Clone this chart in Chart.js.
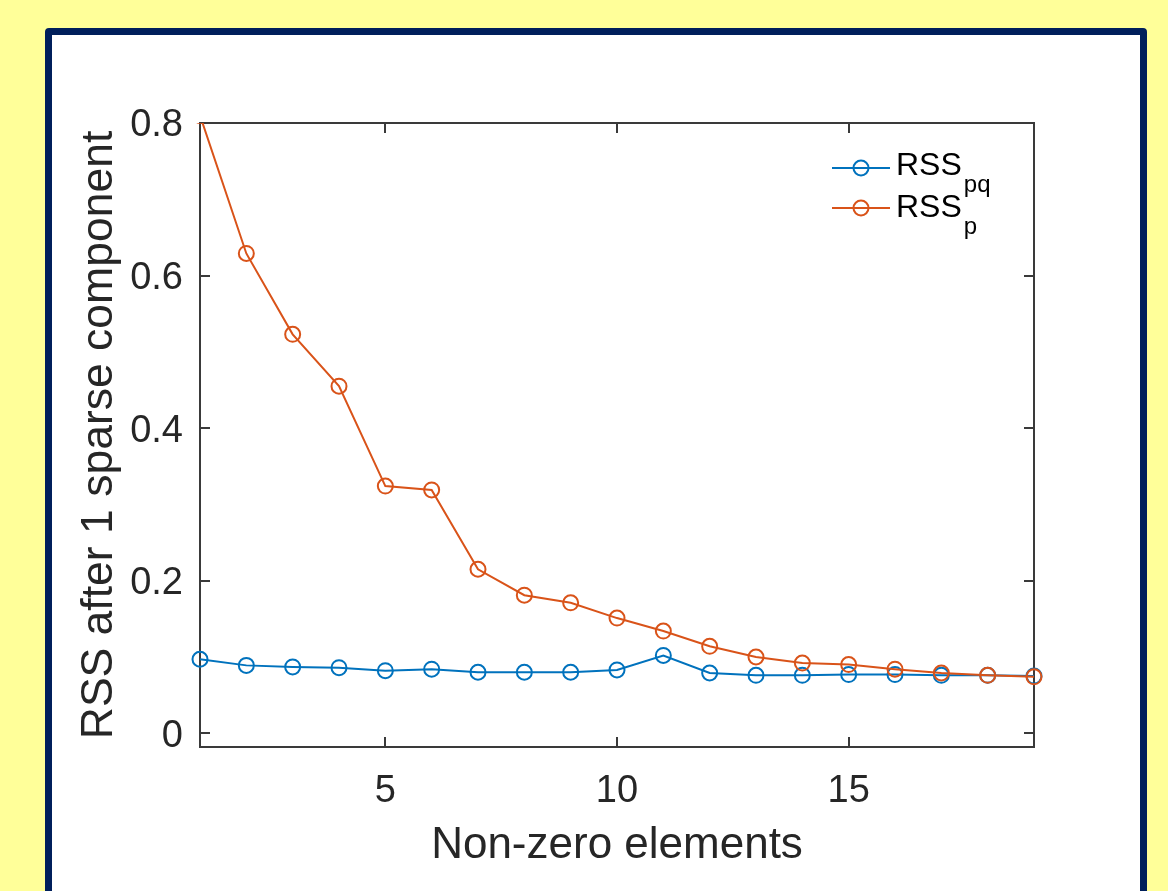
<!DOCTYPE html>
<html>
<head>
<meta charset="utf-8">
<title>RSS after 1 sparse component</title>
<script src="https://cdn.jsdelivr.net/npm/chart.js@4.4.1/dist/chart.umd.min.js"></script>
<style>
  html, body { margin: 0; padding: 0; overflow: hidden; }
  body { background: #ffff99; width: 1168px; height: 891px; position: relative; }
  .frame {
    position: absolute; left: 45px; top: 28px;
    width: 1088px; height: 900px;
    border: 7px solid #001f5b; border-radius: 4px;
    background: #fff;
  }
  .chart_box { position: relative; width: 1088px; height: 856px; }
</style>
</head>
<body>
<div class="frame">
  <div class="chart_box"><canvas id="myChart"></canvas></div>
</div>
<script>
// data
const elements = [1,2,3,4,5,6,7,8,9,10,11,12,13,14,15,16,17,18,19];
const rssPQ = [0.097,0.089,0.087,0.086,0.082,0.084,0.080,0.080,0.080,0.083,0.102,0.079,0.076,0.076,0.077,0.077,0.076,0.076,0.075];
const rssP  = [0.81,0.629,0.523,0.455,0.324,0.319,0.215,0.181,0.171,0.151,0.134,0.114,0.100,0.092,0.090,0.084,0.079,0.076,0.074];
const xTicks = [5, 10, 15];
const yTicks = [0, 0.2, 0.4, 0.6, 0.8];

const blue = "#0072bd";
const orange = "#d95319";
const axisColor = "#262626";
const fontFam = "'Liberation Sans', Arial, Helvetica, sans-serif";

function toPoints(ys){
  return elements.map(function(x, i){ return {x: x, y: ys[i]}; });
}

// box with inward ticks on all four sides, like the matlab axes
const axesBox = {
  id: 'axesBox',
  beforeDatasetsDraw: function(chart){
    var c = chart.ctx, a = chart.chartArea;
    var xs = chart.scales.x, ys = chart.scales.y;
    var tl = 10;
    c.save();
    c.strokeStyle = "#3a3a3a";
    c.lineWidth = 2;
    c.strokeRect(a.left, a.top, a.right - a.left, a.bottom - a.top);
    c.beginPath();
    yTicks.forEach(function(v){
      var py = Math.round(ys.getPixelForValue(v));
      c.moveTo(a.left, py); c.lineTo(a.left + tl, py);
      c.moveTo(a.right, py); c.lineTo(a.right - tl, py);
    });
    xTicks.forEach(function(v){
      var px = Math.round(xs.getPixelForValue(v));
      c.moveTo(px, a.bottom); c.lineTo(px, a.bottom - tl);
      c.moveTo(px, a.top); c.lineTo(px, a.top + tl);
    });
    c.stroke();
    c.restore();
  }
};

// legend with subscripts (RSS_pq, RSS_p)
const subLegend = {
  id: 'subLegend',
  afterDraw: function(chart){
    var c = chart.ctx, a = chart.chartArea;
    var items = [
      {color: blue, sub: "pq", lineY: a.top + 45, base: a.top + 52},
      {color: orange, sub: "p", lineY: a.top + 85, base: a.top + 94}
    ];
    c.save();
    items.forEach(function(it){
      c.strokeStyle = it.color;
      c.lineWidth = 2;
      c.beginPath();
      c.moveTo(a.right - 202, it.lineY);
      c.lineTo(a.right - 144, it.lineY);
      c.stroke();
      c.beginPath();
      c.arc(a.right - 173, it.lineY, 7.5, 0, Math.PI * 2);
      c.stroke();
      c.fillStyle = "#000";
      c.textBaseline = "alphabetic";
      c.textAlign = "left";
      c.font = "32px " + fontFam;
      var tx = a.right - 138;
      c.fillText("RSS", tx, it.base);
      var w = c.measureText("RSS").width;
      c.font = "24px " + fontFam;
      c.fillText(it.sub, tx + w + 2, it.base + 17);
    });
    c.restore();
  }
};

var ctx = document.getElementById('myChart').getContext('2d');
var myChart = new Chart(ctx, {
  type: 'line',
  data: {
    datasets: [{
      label: 'RSS_pq',
      data: toPoints(rssPQ),
      order: 1,
      borderColor: blue,
      borderWidth: 2,
      pointStyle: 'circle',
      pointRadius: 7.5,
      pointBorderWidth: 2,
      pointBackgroundColor: 'rgba(0,0,0,0)',
      pointBorderColor: blue,
      clip: false
    }, {
      label: 'RSS_p',
      data: toPoints(rssP),
      order: 0,
      borderColor: orange,
      borderWidth: 2,
      pointStyle: 'circle',
      pointRadius: 7.5,
      pointBorderWidth: 2,
      pointBackgroundColor: 'rgba(0,0,0,0)',
      pointBorderColor: orange,
      clip: {left: 20, top: 0, right: 20, bottom: 20}
    }]
  },
  options: {
    responsive: true,
    maintainAspectRatio: false,
    animation: false,
    layout: { padding: {left: 0, top: 88, right: 106, bottom: 0} },
    plugins: {
      legend: { display: false },
      tooltip: { enabled: false }
    },
    scales: {
      x: {
        type: 'linear',
        min: 1,
        max: 19,
        afterBuildTicks: function(scale){
          scale.ticks = xTicks.map(function(v){ return {value: v}; });
        },
        afterFit: function(scale){ scale.height = 144; },
        grid: { display: false, drawTicks: false },
        border: { display: false },
        ticks: {
          padding: 22,
          color: axisColor,
          font: { family: fontFam, size: 38 },
          maxRotation: 0
        },
        title: {
          display: true,
          text: 'Non-zero elements',
          color: axisColor,
          font: { family: fontFam, size: 44 },
          padding: { top: 0, bottom: 19 }
        }
      },
      y: {
        min: -0.018,
        max: 0.8,
        afterBuildTicks: function(scale){
          scale.ticks = yTicks.map(function(v){ return {value: v}; });
        },
        afterFit: function(scale){ scale.width = 148; },
        grid: { display: false, drawTicks: false },
        border: { display: false },
        ticks: {
          padding: 17,
          labelOffset: 3,
          color: axisColor,
          font: { family: fontFam, size: 38 },
          callback: function(v){ return String(v); }
        },
        title: {
          display: true,
          text: 'RSS after 1 sparse component',
          color: axisColor,
          font: { family: fontFam, size: 44.5 },
          padding: { top: 21, bottom: 0 }
        }
      }
    }
  },
  plugins: [axesBox, subLegend]
});
</script>
</body>
</html>
